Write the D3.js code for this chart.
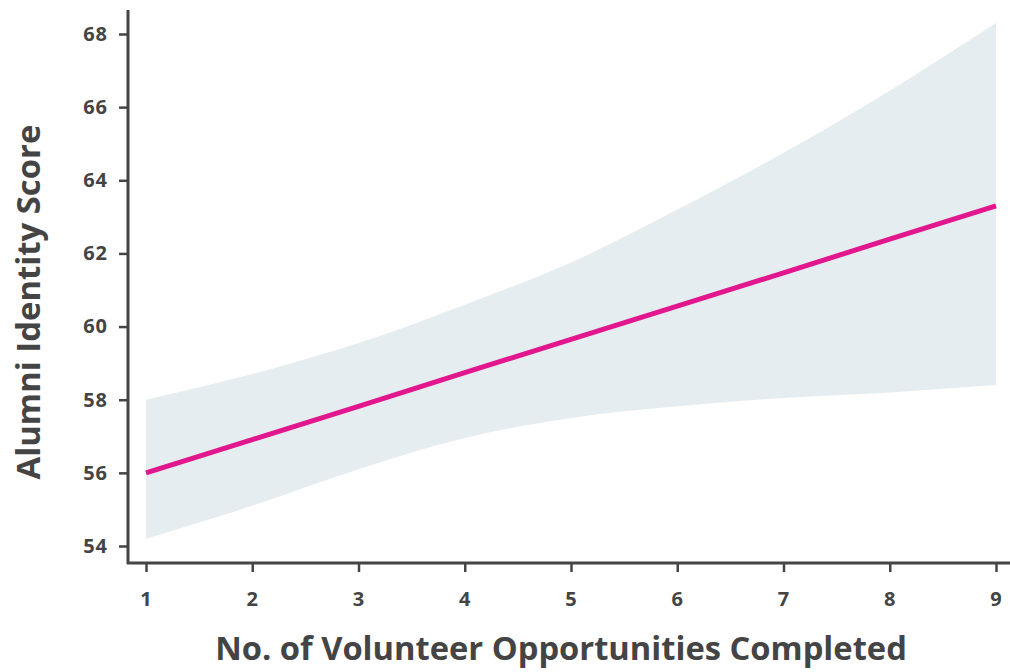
<!DOCTYPE html>
<html>
<head>
<meta charset="utf-8">
<script src="https://cdn.jsdelivr.net/npm/d3@7"></script>
<style>
  html, body { margin: 0; padding: 0; background: #ffffff; }
  svg { display: block; }
  .tick text { font-family: "Open Sans", sans-serif; font-weight: 700; }
</style>
</head>
<body>
<svg id="chart" width="1010" height="672"></svg>
<script>
// Number of volunteer opportunities completed
const opportunities = [1, 2, 3, 4, 5, 6, 7, 8, 9];
// Fitted alumni identity score
const fitted = [56.0, 56.91, 57.82, 58.74, 59.65, 60.56, 61.47, 62.39, 63.3];
// Confidence band
const upper = [58.0, 58.7, 59.55, 60.6, 61.75, 63.2, 64.75, 66.45, 68.3];
const lower = [54.2, 55.1, 56.1, 56.95, 57.5, 57.82, 58.05, 58.2, 58.4];
// Axis ticks
const xTicks = [1, 2, 3, 4, 5, 6, 7, 8, 9];
const yTicks = [54, 56, 58, 60, 62, 64, 66, 68];

const svg = d3.select("#chart");
const axisColor = "#444444";
const font = "'Open Sans', sans-serif";

const x = d3.scaleLinear().domain([1, 9]).range([146, 996]);
const y = d3.scaleLinear().domain([54, 68]).range([546, 34]);

const rows = opportunities.map((o, i) => ({ o, fit: fitted[i], hi: upper[i], lo: lower[i] }));

// confidence band
svg.append("path")
  .datum(rows)
  .attr("fill", "#e5edf0")
  .attr("d", d3.area()
    .x(d => x(d.o))
    .y0(d => y(d.lo))
    .y1(d => y(d.hi))
    .curve(d3.curveMonotoneX));

// fitted line
svg.append("path")
  .datum(rows)
  .attr("fill", "none")
  .attr("stroke", "#e2178e")
  .attr("stroke-width", 5)
  .attr("d", d3.line().x(d => x(d.o)).y(d => y(d.fit)));

// axes
const xAxis = svg.append("g")
  .attr("transform", "translate(0,563)")
  .call(d3.axisBottom(x).tickValues(xTicks).tickFormat(d3.format("d")).tickSize(9).tickPadding(20));
const yAxis = svg.append("g")
  .attr("transform", "translate(128,0)")
  .call(d3.axisLeft(y).tickValues(yTicks).tickFormat(d3.format("d")).tickSize(9).tickPadding(11));

[xAxis, yAxis].forEach(g => {
  g.select(".domain").remove();
  g.selectAll(".tick line").attr("stroke", axisColor).attr("stroke-width", 2.5);
  g.selectAll(".tick text")
    .attr("fill", axisColor)
    .attr("font-size", 20)
    .attr("letter-spacing", 1);
});

// axis lines
svg.append("line")
  .attr("x1", 128).attr("x2", 128).attr("y1", 10).attr("y2", 564)
  .attr("stroke", axisColor).attr("stroke-width", 3);
svg.append("line")
  .attr("x1", 127).attr("x2", 1010).attr("y1", 563).attr("y2", 563)
  .attr("stroke", axisColor).attr("stroke-width", 3);

// axis titles, sized to their span
function title(sel, width) {
  sel.attr("text-anchor", "middle")
    .attr("font-family", font)
    .attr("font-weight", 700)
    .attr("font-size", 28)
    .attr("fill", axisColor);
  const w = sel.node().getComputedTextLength();
  sel.attr("font-size", 28 * width / w);
  return sel;
}

title(svg.append("text")
  .attr("x", 561).attr("y", 660)
  .text("No. of Volunteer Opportunities Completed"), 692);

title(svg.append("text")
  .attr("transform", "translate(40,302) rotate(-90)")
  .text("Alumni Identity Score"), 355);
</script>
</body>
</html>
